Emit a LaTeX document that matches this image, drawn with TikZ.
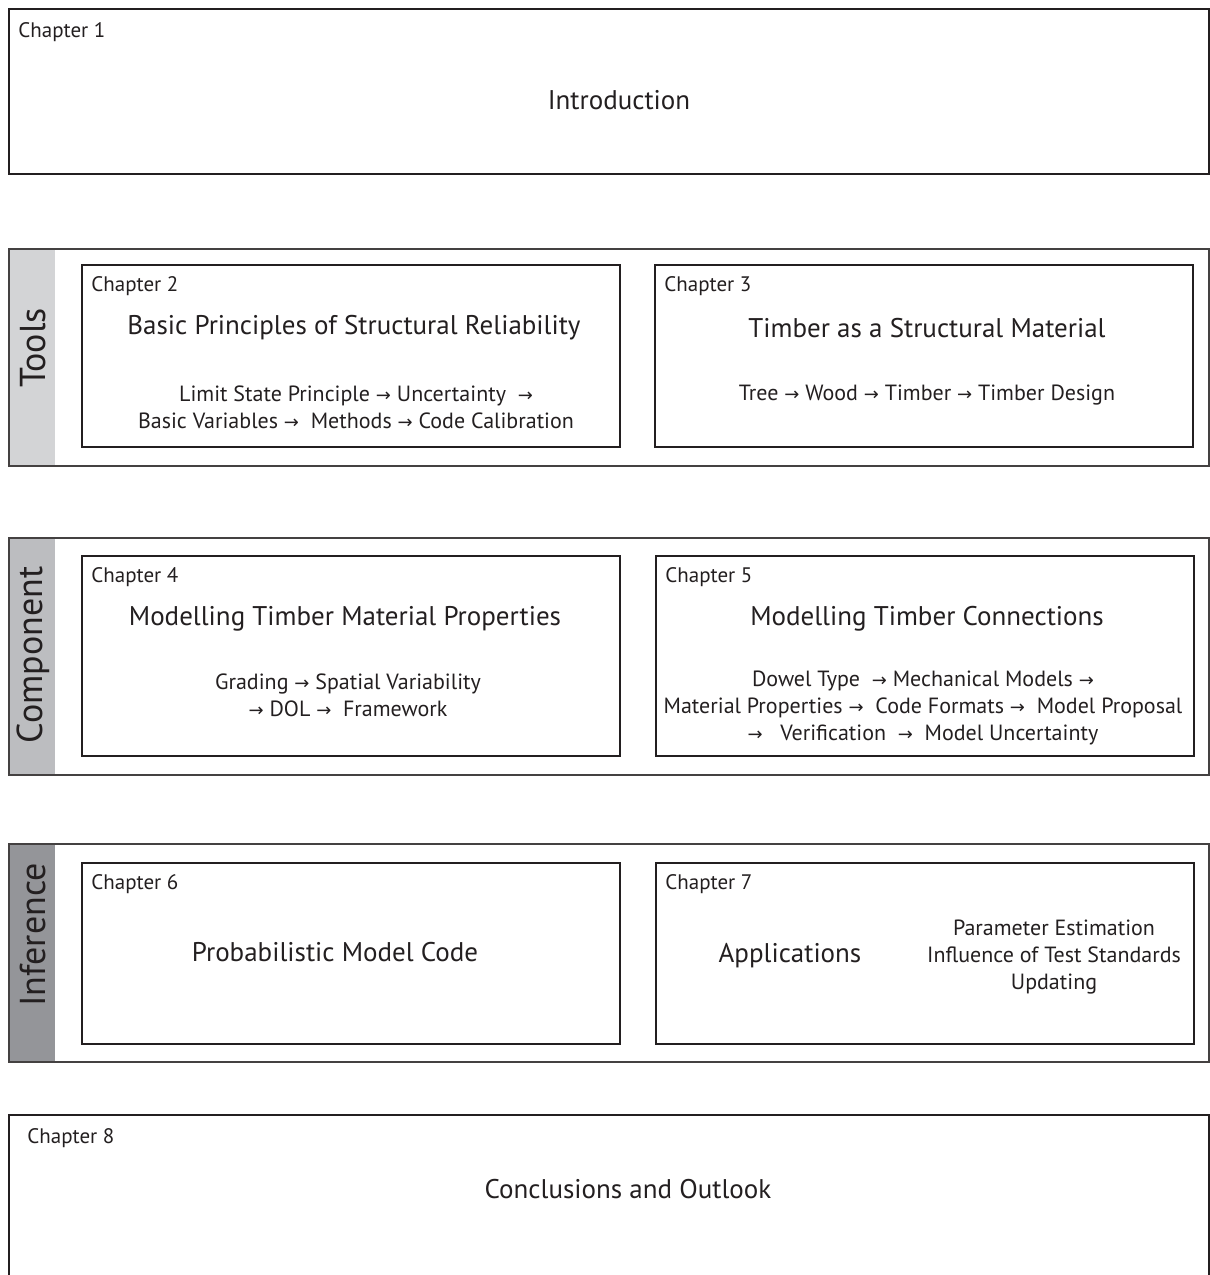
\documentclass[tikz,border=0pt]{standalone}
\usepackage{fontspec}
\setmainfont{PT Sans}
\newfontfamily\arrowfont{DejaVu Sans}
\usetikzlibrary{positioning}
\definecolor{toolsgray}{HTML}{D3D4D6}
\definecolor{compgray}{HTML}{BCBDC0}
\definecolor{infgray}{HTML}{949599}
\definecolor{ink}{HTML}{231F20}
\newcommand{\nx}{{\arrowfont\fontsize{9}{9}\selectfont →}}

\begin{document}
\begin{tikzpicture}[x=0.5pt,y=-0.5pt,
  wide/.style={draw=ink,line width=1pt,anchor=north west,inner sep=0pt,
               minimum width=600pt},
  band/.style={wide,draw=ink!85},
  strip/.style={anchor=north west,inner sep=0pt,minimum width=23.5pt,draw=none},
  chapbox/.style={draw=ink,line width=1pt,anchor=north west,inner sep=0pt,
                  minimum width=269pt},
  chaplab/.style={anchor=base west,inner sep=0pt,font=\fontsize{10.5}{12}\selectfont,text=ink},
  title/.style={inner sep=0pt,font=\fontsize{13.5}{16}\selectfont,text=ink},
  detail/.style={inner sep=0pt,align=center,font=\fontsize{11}{13.5}\selectfont,text=ink},
  sidelab/.style={rotate=90,inner sep=0pt,font=\fontsize{18}{20}\selectfont,text=ink}]
\useasboundingbox (0,0) rectangle (1210,1275);
% chapter 1
\node[wide,minimum height=82.5pt] (intro) at (8,8) {};
\node[chaplab] (intro-lab) at ([shift={(10,29)}]intro.north west) {Chapter 1};
\node[title] (intro-title) at (619,100) {Introduction};
% bands
\foreach \nm/\ytop/\hgt/\col/\lab/\ly in {tools/248/108.5/toolsgray/Tools/348,
    comp/537/118.5/compgray/Component/655, infer/843/109/infgray/Inference/935}
  {\node[strip,fill=\col,minimum height=\hgt pt] (\nm-strip) at (8,\ytop) {};
   \node[band,minimum height=\hgt pt] (\nm) at (8,\ytop) {};
   \node[sidelab] (\nm-lab) at (33,\ly) {\lab};}
% chapter boxes
\foreach \nm/\x/\y/\hgt/\num in {ch2/81/264/91/2, ch3/654/264/91/3, ch4/81/555/100/4,
    ch5/655/555/100/5, ch6/81/862/90.5/6, ch7/655/862/90.5/7}
  {\node[chapbox,minimum height=\hgt pt] (\nm) at (\x,\y) {};
   \node[chaplab] (\nm-lab) at ([shift={(10,27)}]\nm.north west) {Chapter \num};}
\node[title] (ch2-title) at (354,328) {Basic Principles of Structural Reliability};
\node[detail] (ch2-det) at (356,407) {Limit State Principle \nx{}  Uncertainty \ \nx\\
  Basic Variables \nx{} \ Methods \nx{} Code Calibration};
\node[title] (ch3-title) at (927,328) {Timber as a Structural Material};
\node[detail] (ch3-det) at (927,395) {Tree \nx{} Wood \nx{} Timber \nx{} Timber Design};
\node[title] (ch4-title) at (345,619) {Modelling Timber Material Properties};
\node[detail] (ch4-det) at (348,695) {Grading \nx{} Spatial Variability\\
  \nx{} DOL \nx{} \ Framework};
\node[title] (ch5-title) at (927,619) {Modelling Timber Connections};
\node[detail] (ch5-det) at (923,708) {Dowel Type \ \nx{} Mechanical Models \nx\\
  Material Properties \nx{} \ Code Formats \nx{} \ Model Proposal\\
  \nx{} \ \ Verification \ \nx{} \ Model Uncertainty};
\node[title] (ch6-title) at (335,952) {Probabilistic Model Code};
\node[title] (ch7-title) at (790,956) {Applications};
\node[detail] (ch7-det) at (1054,957) {Parameter Estimation\\
  Influence of Test Standards\\ Updating};
% chapter 8
\node[wide,minimum height=100pt] (concl) at (8,1114) {};
\node[chaplab] (concl-lab) at ([shift={(19,29)}]concl.north west) {Chapter 8};
\node[title] (concl-title) at (628,1189) {Conclusions and Outlook};
\end{tikzpicture}
\end{document}
